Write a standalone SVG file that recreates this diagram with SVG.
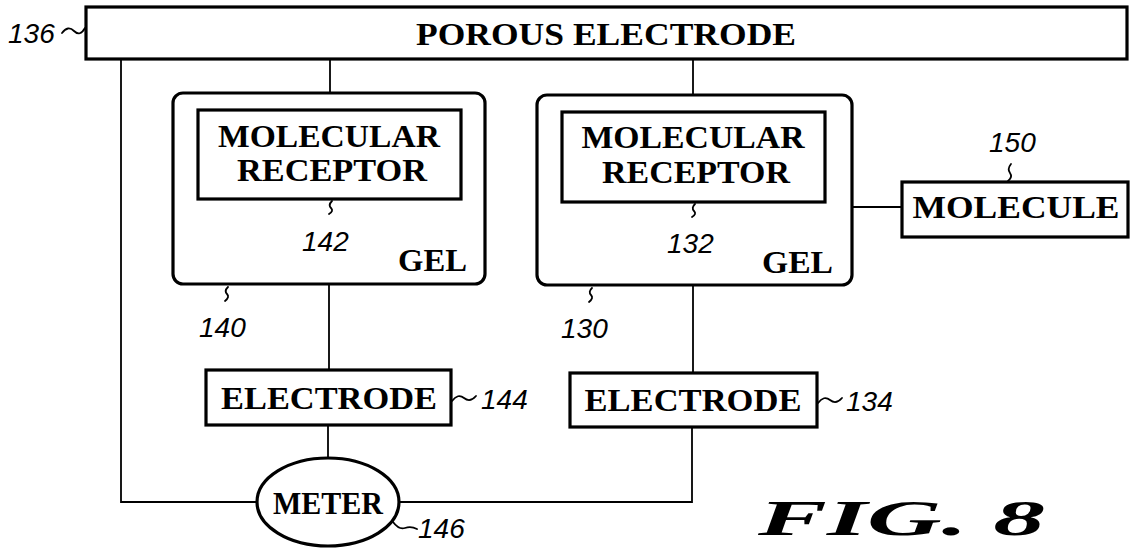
<svg xmlns="http://www.w3.org/2000/svg" width="1133" height="549" viewBox="0 0 1133 549">
<style>
.box{fill:#fff;stroke:#000;stroke-width:3.2}
.wire{fill:none;stroke:#000;stroke-width:1.8}
.sq{fill:none;stroke:#000;stroke-width:1.8;stroke-linecap:round}
.lbl{font-family:"Liberation Serif","Times New Roman",serif;font-weight:bold;font-size:31px;fill:#000;text-anchor:middle}
.end{text-anchor:end}
.num{font-family:"Liberation Sans",Arial,sans-serif;font-style:italic;font-size:28px;fill:#000}
.fig{font-family:"Liberation Serif","Times New Roman",serif;font-weight:bold;font-style:italic;font-size:50px;fill:#000}
</style>
<rect width="1133" height="549" fill="#fff"/>
<g id="connectors">
<polyline class="wire" points="121,59 121,502 257,502"/>
<line class="wire" x1="330" y1="59" x2="330" y2="93"/>
<line class="wire" x1="693" y1="59" x2="693" y2="95"/>
<line class="wire" x1="329" y1="284" x2="329" y2="370"/>
<line class="wire" x1="328" y1="425" x2="328" y2="457"/>
<line class="wire" x1="693" y1="285" x2="693" y2="373"/>
<polyline class="wire" points="692,427 692,502 400,502"/>
<line class="wire" x1="852" y1="207" x2="902" y2="207"/>
</g>
<g id="porous-electrode">
<rect class="box" x="86" y="7" width="1041" height="52"/>
<text class="lbl" x="606" y="45" textLength="380" lengthAdjust="spacingAndGlyphs">POROUS ELECTRODE</text>
<path class="sq" d="M62,33 q6,-8 12,-2 t11,-3"/>
<text class="num" x="8" y="43">136</text>
</g>
<g id="gel-140">
<rect class="box" x="173" y="93" width="312" height="191" rx="10"/>
<text class="lbl end" x="467" y="271" textLength="69" lengthAdjust="spacingAndGlyphs">GEL</text>
<path class="sq" d="M228,287 q-4,4 -1,7 t-2,7"/>
<text class="num" x="199" y="337">140</text>
</g>
<g id="receptor-142">
<rect class="box" x="198" y="110" width="263" height="89"/>
<text class="lbl" x="329" y="147" textLength="222" lengthAdjust="spacingAndGlyphs">MOLECULAR</text>
<text class="lbl" x="332" y="181" textLength="190" lengthAdjust="spacingAndGlyphs">RECEPTOR</text>
<path class="sq" d="M332,201 q-4,4 -1,7 t-2,6"/>
<text class="num" x="302" y="251">142</text>
</g>
<g id="gel-130">
<rect class="box" x="537" y="95" width="315" height="190" rx="10"/>
<text class="lbl end" x="833" y="273" textLength="71" lengthAdjust="spacingAndGlyphs">GEL</text>
<path class="sq" d="M592,288 q-4,4 -1,7 t-2,7"/>
<text class="num" x="561" y="338">130</text>
</g>
<g id="receptor-132">
<rect class="box" x="562" y="112" width="263" height="90"/>
<text class="lbl" x="693" y="148" textLength="223" lengthAdjust="spacingAndGlyphs">MOLECULAR</text>
<text class="lbl" x="696" y="183" textLength="188" lengthAdjust="spacingAndGlyphs">RECEPTOR</text>
<path class="sq" d="M695,204 q-4,4 -1,7 t-2,6"/>
<text class="num" x="667" y="253">132</text>
</g>
<g id="molecule-150">
<rect class="box" x="902" y="182" width="226" height="55"/>
<text class="lbl" x="1016" y="218" textLength="207" lengthAdjust="spacingAndGlyphs">MOLECULE</text>
<path class="sq" d="M1011,164 q-4,5 -1,9 t-2,8"/>
<text class="num" x="989" y="152">150</text>
</g>
<g id="electrode-144">
<rect class="box" x="206" y="370" width="245" height="55"/>
<text class="lbl" x="329" y="409" textLength="216" lengthAdjust="spacingAndGlyphs">ELECTRODE</text>
<path class="sq" d="M452,401 q6,-8 12,-3 t12,-2"/>
<text class="num" x="481" y="409">144</text>
</g>
<g id="electrode-134">
<rect class="box" x="570" y="373" width="247" height="54"/>
<text class="lbl" x="693" y="411" textLength="217" lengthAdjust="spacingAndGlyphs">ELECTRODE</text>
<path class="sq" d="M818,403 q6,-8 12,-3 t12,-2"/>
<text class="num" x="846" y="411">134</text>
</g>
<g id="meter-146">
<ellipse class="box" cx="328" cy="502" rx="71" ry="44"/>
<text class="lbl" x="328" y="514" textLength="110" lengthAdjust="spacingAndGlyphs">METER</text>
<path class="sq" d="M393,522 q6,8 12,6 t12,1"/>
<text class="num" x="418" y="538">146</text>
</g>
<g id="caption">
<text class="fig" x="758" y="535" textLength="287" lengthAdjust="spacingAndGlyphs">FIG. 8</text>
</g>
</svg>
